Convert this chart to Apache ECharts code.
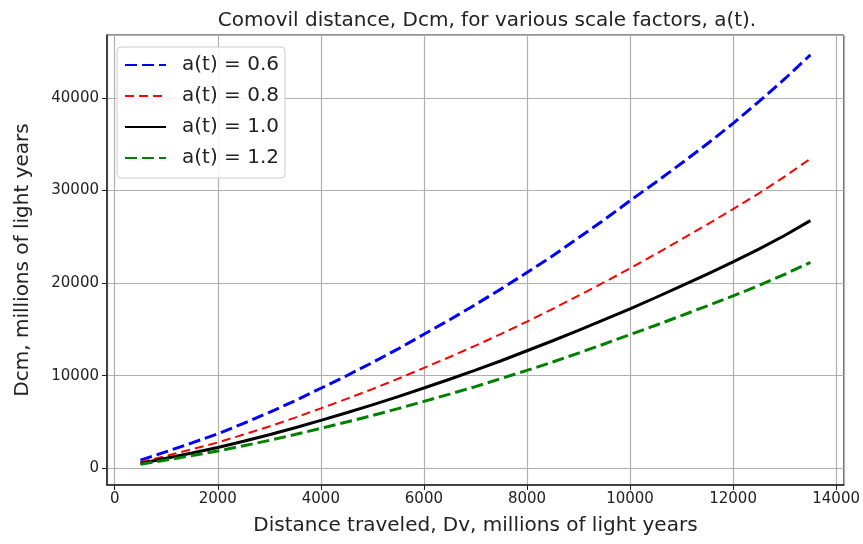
<!DOCTYPE html>
<html>
<head>
<meta charset="utf-8">
<script src="https://cdn.jsdelivr.net/npm/echarts@6/dist/echarts.min.js"></script>
<style>
html,body{margin:0;padding:0;background:#fff;}
#chart{width:863px;height:544px;}
</style>
</head>
<body>
<div id="chart"></div>
<script>
// Distance traveled Dv (millions of light years)
const dv = [500,1000,1500,2000,2500,3000,3500,4000,4500,5000,5500,6000,6500,7000,7500,8000,8500,9000,9500,10000,10500,11000,11500,12000,12500,13000,13500];
// Comoving distance Dcm for each scale factor
const a06 = [880,1800,2750,3730,4850,6050,7300,8650,10000,11420,12900,14480,16050,17680,19380,21150,22950,24900,26850,28900,30900,32950,35050,37250,39600,42050,44650];
const a08 = [660,1350,2060,2800,3650,4520,5480,6480,7500,8560,9680,10850,12020,13250,14520,15850,17230,18650,20100,21600,23150,24750,26350,28000,29700,31500,33450];
const a10 = [520,1080,1650,2250,2920,3620,4380,5180,6000,6850,7750,8680,9620,10600,11620,12700,13780,14900,16050,17230,18450,19700,20980,22300,23680,25150,26750];
const a12 = [430,900,1380,1880,2430,3020,3650,4320,5000,5700,6450,7230,8020,8830,9700,10580,11480,12450,13430,14450,15450,16500,17550,18620,19750,20950,22250];
const seriesNames = ['a(t) = 0.6','a(t) = 0.8','a(t) = 1.0','a(t) = 1.2'];
const titleText = 'Comovil distance, Dcm, for various scale factors, a(t).';
const xName = 'Distance traveled, Dv, millions of light years';
const yName = 'Dcm, millions of light years';

const pair = arr => dv.map((x,i)=>[x,arr[i]]);
const FONT = 'DejaVu Sans';
const chart = echarts.init(document.getElementById('chart'), null, {renderer:'canvas'});
const mk = (name, arr, color, width, type) => ({
  name, type:'line', data: pair(arr), showSymbol:false, symbol:'none',
  lineStyle:{color, width, type}, itemStyle:{color}, animation:false
});
chart.setOption({
  animation:false,
  backgroundColor:'#fff',
  title:{text:titleText, left:482, textAlign:'center', top:6,
    textStyle:{fontFamily:FONT, fontSize:20, fontWeight:'normal', color:'#222'}},
  grid:{left:107, right:15, top:35, bottom:59, show:true, borderColor:'#222', borderWidth:1, backgroundColor:'transparent'},
  legend:{
    orient:'vertical', left:117, top:47,
    data:seriesNames,
    itemWidth:41, itemHeight:14, itemGap:11,
    padding:[8,6,10,7],
    itemStyle:{opacity:0, color:'transparent', borderWidth:0},
    backgroundColor:'rgba(255,255,255,0.85)', borderColor:'#cccccc', borderWidth:1, borderRadius:4,
    textStyle:{fontFamily:FONT, fontSize:20, color:'#222', lineHeight:20, padding:[0,0,0,11]}
  },
  xAxis:{
    type:'value', min:-150, max:14150, splitNumber:7,
    name:xName, nameLocation:'middle', nameGap:31,
    nameTextStyle:{fontFamily:FONT, fontSize:20, color:'#222'},
    axisLine:{show:true, onZero:false, lineStyle:{color:'#222', width:1.5}},
    axisTick:{show:true, length:5, lineStyle:{color:'#222'}},
    axisLabel:{fontFamily:FONT, fontSize:15, color:'#222', margin:7, showMinLabel:false, showMaxLabel:false,
      formatter:v=>String(v)},
    splitLine:{show:true, lineStyle:{color:'#b0b0b0', width:1.2}}
  },
  yAxis:{
    type:'value', min:-1800, max:46800, splitNumber:5,
    name:yName, nameLocation:'middle', nameGap:74,
    nameTextStyle:{fontFamily:FONT, fontSize:20, color:'#222'},
    axisLine:{show:true, onZero:false, lineStyle:{color:'#222', width:1.5}},
    axisTick:{show:true, length:5, lineStyle:{color:'#222'}},
    axisLabel:{fontFamily:FONT, fontSize:15, color:'#222', margin:8, showMinLabel:false, showMaxLabel:false,
      formatter:v=>String(v)},
    splitLine:{show:true, lineStyle:{color:'#b0b0b0', width:1.2}}
  },
  series:[
    mk(seriesNames[0], a06, '#0000ff', 3, [12,5]),
    mk(seriesNames[1], a08, '#ff0000', 2, [9,5]),
    mk(seriesNames[2], a10, '#000000', 3, 'solid'),
    mk(seriesNames[3], a12, '#008000', 3, [12,5])
  ]
});
</script>
</body>
</html>
